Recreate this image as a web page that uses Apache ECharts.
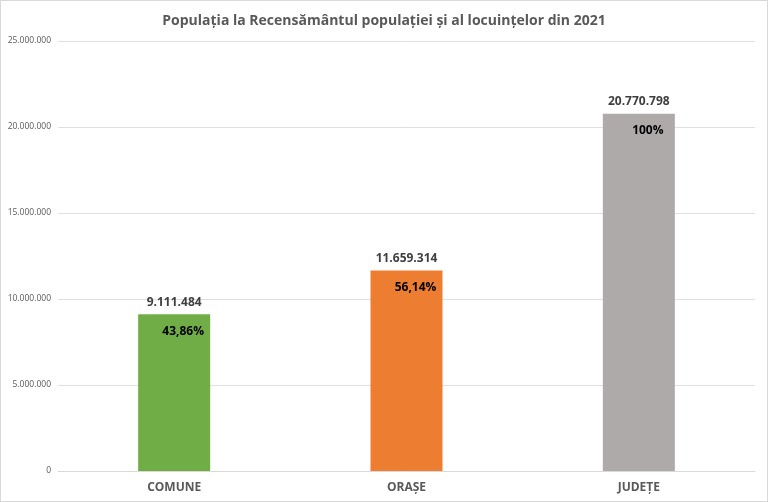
<!DOCTYPE html>
<html>
<head>
<meta charset="utf-8">
<script src="https://cdn.jsdelivr.net/npm/echarts@6/dist/echarts.min.js"></script>
<style>
  html, body { margin: 0; padding: 0; background: #fff; }
  #main { width: 766px; height: 500px; border: 1px solid #d9d9d9; }
</style>
</head>
<body>
<div id="main"></div>
<script>
var categories = ['COMUNE', 'ORAȘE', 'JUDEȚE'];
var population = [9111484, 11659314, 20770798];
var shares = ['43,86%', '56,14%', '100%'];
var barColors = ['#70AD47', '#ED7D31', '#AEAAAA'];
var yTicks = [0, 5000000, 10000000, 15000000, 20000000, 25000000];

function fmt(v) {
  return String(v).replace(/\B(?=(\d{3})+(?!\d))/g, '.');
}

var chartDom = document.getElementById('main');
var myChart = echarts.init(chartDom);
var option;

option = {
  animation: false,
  textStyle: { fontFamily: 'Open Sans' },
  title: {
    text: 'Populația la Recensământul populației și al locuințelor din 2021',
    left: 'center',
    top: 8,
    textStyle: { fontSize: 14, fontWeight: 'bold', color: '#595959' }
  },
  grid: { left: 57, right: 12, top: 40, bottom: 30 },
  xAxis: {
    type: 'category',
    data: categories,
    axisTick: { show: false },
    axisLine: { lineStyle: { color: '#d9d9d9' } },
    axisLabel: { color: '#595959', fontSize: 12, fontWeight: 'bold', margin: 11 }
  },
  yAxis: {
    type: 'value',
    min: yTicks[0],
    max: yTicks[yTicks.length - 1],
    interval: yTicks[1] - yTicks[0],
    axisLabel: { color: '#595959', fontSize: 8.5, formatter: fmt, margin: 7 },
    splitLine: { lineStyle: { color: '#e0e0e0' } }
  },
  series: [
    {
      type: 'bar',
      barWidth: '31%',
      data: population.map(function (v, i) {
        return { value: v, itemStyle: { color: barColors[i] } };
      }),
      label: {
        show: true,
        position: 'top',
        distance: 6,
        color: '#404040',
        fontSize: 12,
        fontWeight: 'bold',
        formatter: function (p) { return fmt(p.value); }
      }
    },
    {
      type: 'bar',
      barWidth: '31%',
      barGap: '-100%',
      silent: true,
      itemStyle: { color: 'transparent' },
      data: population,
      label: {
        show: true,
        position: 'insideTop',
        distance: 11,
        offset: [9, 0],
        color: '#000',
        fontSize: 12,
        fontWeight: 'bold',
        formatter: function (p) { return shares[p.dataIndex]; }
      }
    }
  ]
};

option && myChart.setOption(option);
</script>
</body>
</html>
